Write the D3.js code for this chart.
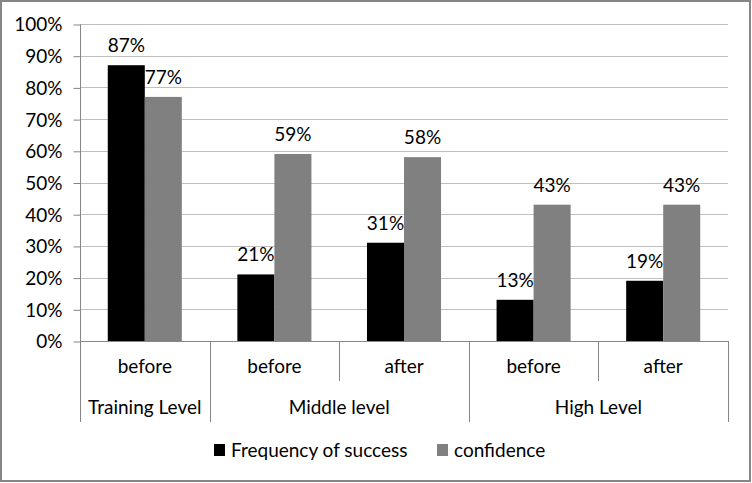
<!DOCTYPE html>
<html><head><meta charset="utf-8">
<script src="https://cdn.jsdelivr.net/npm/d3@7"></script>
<style>body{margin:0;background:#fff}svg{display:block}text{font-family:Lato,"Open Sans",sans-serif;fill:#000}</style>
</head><body><svg id="c" width="752" height="483"></svg>
<script>
const subCategories = ["before","before","after","before","after"];
const groups = [{name:"Training Level",start:0,end:1},{name:"Middle level",start:1,end:3},{name:"High Level",start:3,end:5}];
const seriesNames = ["Frequency of success","confidence"];
const frequency = [0.87,0.21,0.31,0.13,0.19];
const confidence = [0.77,0.59,0.58,0.43,0.43];
const yTicks = [0,0.1,0.2,0.3,0.4,0.5,0.6,0.7,0.8,0.9,1.0];
const colors = ["#000000","#808080"];
(function(){
const FS = 19;
const svg = d3.select("#c");
svg.append("rect").attr("x",1).attr("y",1).attr("width",749).attr("height",480)
  .attr("fill","#fff").attr("stroke","#868686").attr("stroke-width",2);

const pL=80, pR=728, pT=24, pB=341;
const idx = d3.range(subCategories.length);
const x0 = d3.scaleBand().domain(idx).range([pL,pR]).paddingInner(0).paddingOuter(0);
const x1 = d3.scaleBand().domain([0,1]).range([0,x0.bandwidth()]).paddingInner(0).paddingOuter(0.75);
const y = d3.scaleLinear().domain([0,1]).range([pB,pT]);

svg.append("g").selectAll("line").data(yTicks.filter(d=>d>0)).join("line")
  .attr("x1",pL).attr("x2",pR).attr("y1",d=>Math.round(y(d))+0.5).attr("y2",d=>Math.round(y(d))+0.5)
  .attr("stroke","#bfbfbf").attr("stroke-width",1);

const ya = svg.append("g").attr("transform",`translate(${pL+0.5},0.5)`)
  .call(d3.axisLeft(y).tickValues(yTicks).tickFormat(d3.format(".0%")).tickSize(7).tickPadding(11));
ya.selectAll("path").attr("stroke","#868686").attr("d",`M0,${pT}V${pB}`);
ya.selectAll("line").attr("stroke","#868686");
ya.selectAll("text").attr("font-size",FS).attr("font-family","Lato").attr("fill","#000").attr("dy","0.34em");

const series = [frequency, confidence];
const bars = svg.append("g");
series.forEach((vals,si)=>{
  bars.selectAll(null).data(vals).join("rect")
    .attr("x",(d,i)=>x0(i)+x1(si)).attr("width",x1.bandwidth())
    .attr("y",d=>y(d)).attr("height",d=>y(0)-y(d)).attr("fill",colors[si]);
  bars.selectAll(null).data(vals).join("text")
    .attr("x",(d,i)=>x0(i)+x1(si)+x1.bandwidth()/2).attr("y",d=>y(d)-13)
    .attr("text-anchor","middle").attr("font-size",FS).text(d=>d3.format(".0%")(d));
});

const ax = svg.append("g").attr("stroke","#868686").attr("stroke-width",1);
ax.append("line").attr("x1",pL).attr("x2",pR).attr("y1",pB+0.5).attr("y2",pB+0.5);
const groupEdges = new Set();
groups.forEach(g=>{groupEdges.add(g.start);groupEdges.add(g.end);});
d3.range(subCategories.length+1).forEach(i=>{
  const xx = Math.round(i<subCategories.length? x0(i) : pR)+0.5;
  ax.append("line").attr("x1",xx).attr("x2",xx).attr("y1",pB).attr("y2",groupEdges.has(i)?422:381);
});
svg.append("g").selectAll("text").data(subCategories).join("text")
  .attr("x",(d,i)=>x0(i)+x0.bandwidth()/2).attr("y",373).attr("text-anchor","middle")
  .attr("font-size",FS).text(d=>d);
svg.append("g").selectAll("text").data(groups).join("text")
  .attr("x",g=>(x0(g.start)+ (g.end<subCategories.length? x0(g.end): pR))/2).attr("y",414).attr("text-anchor","middle")
  .attr("font-size",FS).text(g=>g.name);

const legendX = [214,437];
const lg = svg.append("g");
seriesNames.forEach((n,i)=>{
  lg.append("rect").attr("x",legendX[i]).attr("y",444).attr("width",11).attr("height",12).attr("fill",colors[i]);
  lg.append("text").attr("x",legendX[i]+17).attr("y",457).attr("font-size",FS).text(n);
});
})();
</script></body></html>
